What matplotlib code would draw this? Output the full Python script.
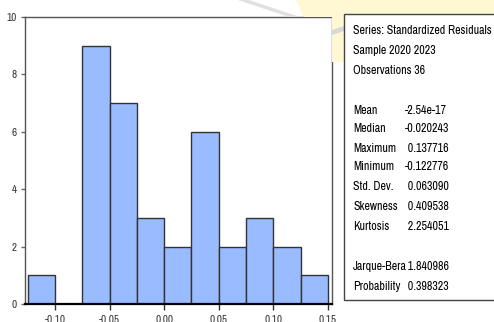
import matplotlib
matplotlib.use('Agg')
from matplotlib import pyplot as plt
from matplotlib import font_manager as fm
from matplotlib.patches import Rectangle, Polygon
import numpy as np

# histogram of standardized residuals (bin edges + counts)
binEdges = [-0.125, -0.100, -0.075, -0.050, -0.025, 0.000, 0.025, 0.050, 0.075, 0.100, 0.125, 0.150]
binCounts = [1, 0, 9, 7, 3, 2, 6, 2, 3, 2, 1]

xTicks = [-0.10, -0.05, 0.00, 0.05, 0.10, 0.15]
xTickLabels = ['-0.10', '-0.05', '0.00', '0.05', '0.10', '0.15']
yTicks = [0, 2, 4, 6, 8, 10]

headerLines = ['Series: Standardized Residuals', 'Sample 2020 2023', 'Observations 36']
statNames = ['Mean', 'Median', 'Maximum', 'Minimum', 'Std. Dev.', 'Skewness', 'Kurtosis']
statValues = ['-2.54e-17', '-0.020243', ' 0.137716', '-0.122776', ' 0.063090', ' 0.409538', ' 2.254051']
testNames = ['Jarque-Bera', 'Probability']
testValues = [' 1.840986', ' 0.398323']

W, H = 494, 322

# pick a narrow font like the EViews output (Arial Narrow look)
installed = set(f.name for f in fm.fontManager.ttflist)
narrowFont = 'DejaVu Sans'
for cand in ['Liberation Sans Narrow', 'Arial Narrow', 'Archivo Narrow', 'Roboto Condensed', 'Open Sans Condensed']:
    if cand in installed:
        narrowFont = cand
        break
narrow = [narrowFont, 'DejaVu Sans']
boxSize = 8.6

fig = plt.figure(figsize=(W / 100.0, H / 100.0), dpi=100)
fig.patch.set_facecolor('white')

def px(x, y):
    # pixel (from top-left) -> figure fraction
    return x / float(W), 1 - y / float(H)

# faint slide watermark behind the chart
fig.patches.append(Polygon([px(296, 0), px(494, 0), px(494, 14), px(344, 14), px(344, 62), px(332, 62), px(332, 17), px(304, 17)],
                           closed=True, transform=fig.transFigure, facecolor='#fff8d2', edgecolor='none', zorder=0))
fig.patches.append(Polygon([px(238, 0), px(249, 0), px(300, 17), px(289, 17)],
                           closed=True, transform=fig.transFigure, facecolor='#e0e0e0', edgecolor='none', zorder=0))
fig.patches.append(Polygon([px(332, 30), px(344, 26), px(344, 31), px(332, 35)],
                           closed=True, transform=fig.transFigure, facecolor='#d8d8d8', edgecolor='none', zorder=0))

ax = fig.add_axes([25.0 / W, 18.0 / H, (332.0 - 25.0) / W, (304.0 - 17.0) / H])
ax.set_facecolor('white')

lefts = np.array(binEdges[:-1])
widths = np.diff(binEdges)
ax.bar(lefts, binCounts, width=widths, align='edge', color='#99bbff', edgecolor='#333333', linewidth=1.0, zorder=2)

ax.set_xlim(-0.1275, 0.1537)
ax.set_ylim(0, 10)
ax.set_xticks(xTicks)
ax.set_xticklabels(xTickLabels, family=narrow, fontsize=8, color='#333333')
ax.set_yticks(yTicks)
ax.set_yticklabels([str(v) for v in yTicks], family=narrow, fontsize=8, color='#333333')
ax.tick_params(axis='x', direction='out', length=4, width=1, color='#333333', pad=4)
ax.tick_params(axis='y', direction='out', length=3, width=1, color='#666666', pad=3)

for side in ['top', 'right', 'left']:
    ax.spines[side].set_color('#555555')
    ax.spines[side].set_linewidth(1.0)
ax.spines['bottom'].set_color('black')
ax.spines['bottom'].set_linewidth(1.6)
ax.spines['bottom'].set_zorder(3)

# statistics box on the right
x0, y0 = px(344, 300)
x1, y1 = px(500, 14)
fig.patches.append(Rectangle((x0, y0), x1 - x0, y1 - y0, transform=fig.transFigure,
                             facecolor='white', edgecolor='#444444', linewidth=1.0, zorder=1))

headerY = [31, 50, 70]
for txt, yy in zip(headerLines, headerY):
    fig.text(353.0 / W, 1 - yy / float(H), txt, family=narrow, fontsize=boxSize, va='center', ha='left')

statY = [110, 129, 148, 167, 186, 206, 226]
for name, val, yy in zip(statNames, statValues, statY):
    fig.text(353.0 / W, 1 - yy / float(H), name, family=narrow, fontsize=boxSize, va='center', ha='left')
    fig.text(405.0 / W, 1 - yy / float(H), val, family=narrow, fontsize=boxSize, va='center', ha='left')

testY = [267, 287]
for name, val, yy in zip(testNames, testValues, testY):
    fig.text(353.0 / W, 1 - yy / float(H), name, family=narrow, fontsize=boxSize, va='center', ha='left')
    fig.text(405.0 / W, 1 - yy / float(H), val, family=narrow, fontsize=boxSize, va='center', ha='left')

fig.savefig('out.png', dpi=100, facecolor='white')
